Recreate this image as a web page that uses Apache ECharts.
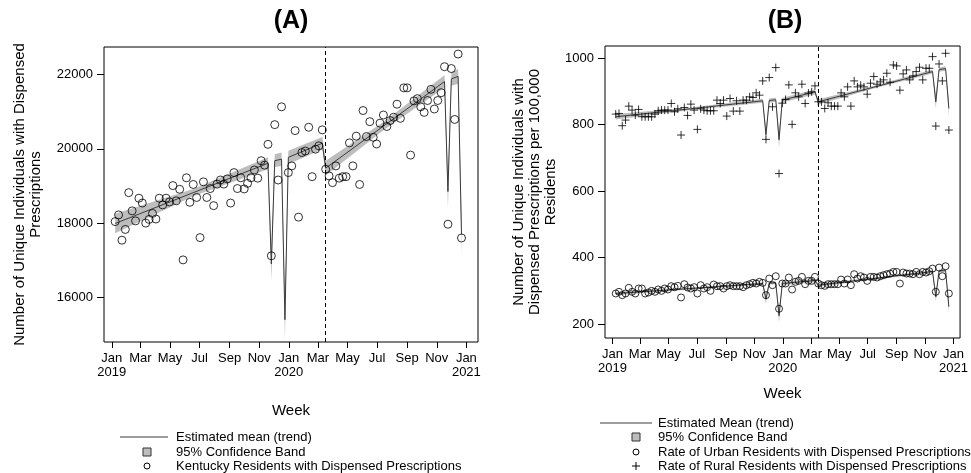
<!DOCTYPE html>
<html>
<head>
<meta charset="utf-8">
<title>Dispensed prescriptions, Kentucky 2019-2020</title>
<script src="https://cdn.jsdelivr.net/npm/echarts@6/dist/echarts.min.js"></script>
<style>
  html, body { margin: 0; padding: 0; background: #fff; }
  #chart { width: 971px; height: 473px; }
</style>
</head>
<body>
<div id="chart"></div>
<script>
// one point per week, Jan 2019 - Dec 2020 (103 weeks)
var DAY = 86400000;
var firstWeek = Date.UTC(2019, 0, 8);
var weeks = [];
for (var i = 0; i < 103; i++) weeks.push(firstWeek + i * 7 * DAY);

// (A) Kentucky residents with dispensed prescriptions
var kentucky = [
  18040, 18220, 17540, 17830, 18820, 18330, 18060, 18670, 18540, 18000,
  18100, 18260, 18110, 18670, 18490, 18670, 18570, 19010, 18600, 18910,
  17010, 19220, 18560, 19040, 18690, 17610, 19110, 18690, 18930, 18470,
  19050, 19160, 19050, 19190, 18540, 19360, 18930, 19220, 18920, 19070,
  19220, 19430, 19210, 19680, 19560, 20120, 17120, 20650, 19160, 21130,
  14780, 19360, 19540, 20490, 18160, 19900, 19940, 20580, 19250, 19990,
  20080, 20510, 19450, 19270, 19090, 19540, 19210, 19250, 19250, 20160,
  19540, 20340, 19040, 21030, 20330, 20730, 20310, 20130, 20690, 20910,
  20600, 20760, 20850, 21200, 20820, 21640, 21640, 19830, 21290, 21350,
  21130, 20980, 21300, 21600, 21070, 21300, 21510, 22210, 17970, 22160,
  20790, 22550, 17600
];

// (B) rates per 100,000 residents
var urban = [
  292, 297, 287, 292, 309, 297, 292, 307, 307, 292,
  295, 300, 297, 304, 300, 307, 304, 314, 311, 315,
  280, 320, 310, 307, 311, 292, 317, 307, 311, 300,
  319, 314, 314, 307, 314, 317, 314, 314, 314, 311,
  317, 320, 324, 322, 327, 324, 287, 337, 317, 344,
  246, 322, 322, 340, 304, 327, 330, 342, 320, 330,
  330, 342, 322, 317, 315, 320, 320, 320, 320, 334,
  322, 334, 317, 350, 337, 344, 340, 330, 342, 342,
  340, 344, 347, 350, 352, 357, 357, 322, 355, 352,
  352, 350, 357, 350, 357, 355, 359, 367, 297, 370,
  344, 374, 292
];
var rural = [
  832, 834, 797, 814, 856, 844, 829, 846, 824, 824,
  824, 824, 832, 842, 844, 844, 844, 864, 839, 848,
  769, 852, 828, 862, 844, 786, 848, 844, 842, 842,
  842, 874, 864, 874, 826, 879, 841, 872, 841, 874,
  874, 884, 882, 896, 889, 932, 756, 942, 854, 972,
  653, 865, 876, 920, 801, 896, 884, 922, 864, 895,
  899, 917, 869, 869, 849, 866, 856, 856, 856, 896,
  884, 914, 856, 932, 914, 919, 914, 892, 925, 945,
  922, 929, 935, 955, 928, 980, 977, 904, 953, 965,
  935, 947, 960, 973, 935, 970, 970, 1005, 796, 983,
  932, 1015, 784
];

// fitted trend: the week numbers where the fitted line bends, its value there
// and the half width of the 95% band
var trendWeeks = [1, 24, 46, 47, 48, 50, 51, 52, 62, 63, 80, 98, 99, 100, 102, 103];
var trendKy    = [17990, 18820, 19610, 16900, 19680, 19720, 15400, 19770, 20150, 19480, 20610, 21810, 18850, 21880, 21950, 17700];
var bandKy     = [260, 100, 160, 450, 170, 180, 550, 180, 170, 200, 110, 170, 450, 180, 200, 600];
var trendRural = [824, 848, 872, 770, 873, 875, 755, 874, 899, 869, 913, 960, 869, 966, 969, 849];
var bandRural  = [8, 4, 6, 20, 6, 6, 25, 7, 7, 8, 4, 6, 20, 6, 7, 25];
var trendUrban = [292, 307, 322, 275, 323, 324, 225, 322, 331, 317, 337, 358, 282, 360, 361, 252];
var bandUrban  = [5, 3, 4, 15, 4, 4, 20, 5, 5, 5, 3, 4, 15, 4, 5, 20];

var interruption = Date.UTC(2020, 2, 16);

var tickDates = [
  Date.UTC(2019, 0, 1), Date.UTC(2019, 2, 1), Date.UTC(2019, 4, 1), Date.UTC(2019, 6, 1),
  Date.UTC(2019, 8, 1), Date.UTC(2019, 10, 1), Date.UTC(2020, 0, 1), Date.UTC(2020, 2, 1),
  Date.UTC(2020, 4, 1), Date.UTC(2020, 6, 1), Date.UTC(2020, 8, 1), Date.UTC(2020, 10, 1),
  Date.UTC(2021, 0, 1)
];
var tickLabels = ['Jan\n2019', 'Mar', 'May', 'Jul', 'Sep', 'Nov', 'Jan\n2020',
                  'Mar', 'May', 'Jul', 'Sep', 'Nov', 'Jan\n2021'];

var FONT = 'Liberation Sans, Arial, sans-serif';

function pairs(list) {
  return list.map(function (v, i) { return [weeks[i], v]; });
}
function trendLine(idx, vals) {
  return {
    type: 'line', xAxisIndex: idx, yAxisIndex: idx, z: 3, silent: true,
    symbol: 'none', lineStyle: { color: '#3c3c3c', width: 1 },
    data: trendWeeks.map(function (w, i) { return [weeks[w - 1], vals[i]]; })
  };
}
function band(idx, vals, half) {
  var pts = trendWeeks.map(function (w, i) {
    return [weeks[w - 1], vals[i] - half[i], vals[i] + half[i]];
  });
  return {
    type: 'custom', xAxisIndex: idx, yAxisIndex: idx, z: 2, silent: true,
    data: pts, encode: { x: 0, y: [1, 2] },
    renderItem: function (params, api) {
      if (params.dataIndex !== 0) return null;
      var upper = [], lower = [];
      for (var k = 0; k < pts.length; k++) {
        upper.push(api.coord([pts[k][0], pts[k][2]]));
        lower.unshift(api.coord([pts[k][0], pts[k][1]]));
      }
      return { type: 'polygon', shape: { points: upper.concat(lower) },
               style: { fill: '#bdbdbd' } };
    }
  };
}
var dashed = {
  symbol: 'none', silent: true, label: { show: false },
  lineStyle: { color: '#000', width: 1, type: [4, 3] },
  data: [{ xAxis: interruption }]
};
var plus = 'path://M5,0L5,10M0,5L10,5';

function xAxisFor(idx, min, max, gap) {
  return {
    type: 'value', gridIndex: idx, min: min, max: max,
    name: 'Week', nameLocation: 'middle', nameGap: gap,
    nameTextStyle: { fontFamily: FONT, fontSize: 15, color: '#000' },
    axisLine: { show: false }, splitLine: { show: false },
    axisTick: { show: true, length: 6, customValues: tickDates, lineStyle: { color: '#000' } },
    axisLabel: {
      customValues: tickDates, margin: 9, fontFamily: FONT, fontSize: 13,
      color: '#000', lineHeight: 14, hideOverlap: false,
      formatter: function (v) { return tickLabels[tickDates.indexOf(v)]; }
    }
  };
}
function yAxisFor(idx, min, max, ticks, name, gap) {
  return {
    type: 'value', gridIndex: idx, min: min, max: max,
    name: name, nameLocation: 'middle', nameRotate: 90, nameGap: gap,
    nameTextStyle: { fontFamily: FONT, fontSize: 15, color: '#000', lineHeight: 16 },
    axisLine: { show: false }, splitLine: { show: false },
    axisTick: { show: true, length: 7, customValues: ticks, lineStyle: { color: '#000' } },
    axisLabel: {
      customValues: ticks, margin: 11, fontFamily: FONT, fontSize: 13, color: '#000',
      formatter: function (v) { return String(v); }
    }
  };
}

function txt(x, y, s, extra) {
  var st = { text: s, x: x, y: y, fill: '#000', font: '13px ' + FONT,
             align: 'left', verticalAlign: 'middle',
             textAlign: 'left', textVerticalAlign: 'middle' };
  for (var key in extra) st[key] = extra[key];
  return { type: 'text', style: st, silent: true };
}
var legendA = [
  { type: 'line', shape: { x1: 120, y1: 437, x2: 168, y2: 437 }, style: { stroke: '#3c3c3c', lineWidth: 1 } },
  txt(176, 437, 'Estimated mean (trend)'),
  { type: 'rect', shape: { x: 143, y: 448, width: 8, height: 8 }, style: { fill: '#bdbdbd', stroke: '#333', lineWidth: 1 } },
  txt(176, 452, '95% Confidence Band'),
  { type: 'circle', shape: { cx: 147, cy: 466, r: 3 }, style: { fill: 'none', stroke: '#000', lineWidth: 1 } },
  txt(176, 466, 'Kentucky Residents with Dispensed Prescriptions')
];
var legendB = [
  { type: 'line', shape: { x1: 600, y1: 423, x2: 652, y2: 423 }, style: { stroke: '#3c3c3c', lineWidth: 1 } },
  txt(658, 423, 'Estimated Mean (trend)'),
  { type: 'rect', shape: { x: 632, y: 433, width: 8, height: 8 }, style: { fill: '#bdbdbd', stroke: '#333', lineWidth: 1 } },
  txt(658, 437, '95% Confidence Band'),
  { type: 'circle', shape: { cx: 636, cy: 452, r: 3 }, style: { fill: 'none', stroke: '#000', lineWidth: 1 } },
  txt(658, 452, 'Rate of Urban Residents with Dispensed Prescriptions'),
  { type: 'line', shape: { x1: 632, y1: 466, x2: 640, y2: 466 }, style: { stroke: '#000', lineWidth: 1 } },
  { type: 'line', shape: { x1: 636, y1: 462, x2: 636, y2: 470 }, style: { stroke: '#000', lineWidth: 1 } },
  txt(658, 466, 'Rate of Rural Residents with Dispensed Prescriptions')
];
var titles = [
  txt(291, 21, '(A)', { font: 'bold 25px ' + FONT, align: 'center', textAlign: 'center' }),
  txt(785, 21, '(B)', { font: 'bold 25px ' + FONT, align: 'center', textAlign: 'center' })
];

var option = {
  animation: false,
  backgroundColor: '#fff',
  grid: [
    { left: 104, right: 493, top: 47, bottom: 131, show: true, borderColor: '#000', borderWidth: 1 },
    { left: 605, right: 6, top: 46, bottom: 135, show: true, borderColor: '#000', borderWidth: 1 }
  ],
  xAxis: [
    xAxisFor(0, Date.UTC(2018, 11, 16), Date.UTC(2021, 0, 25), 61),
    xAxisFor(1, Date.UTC(2018, 11, 16), Date.UTC(2021, 0, 15), 48)
  ],
  yAxis: [
    yAxisFor(0, 14800, 22740, [16000, 18000, 20000, 22000],
             'Number of Unique Individuals with Dispensed\nPrescriptions', 60),
    yAxisFor(1, 158, 1037, [200, 400, 600, 800, 1000],
             'Number of Unique Individuals with\nDispensed Prescriptions per 100,000\nResidents', 46)
  ],
  graphic: titles.concat(legendA, legendB),
  series: [
    band(0, trendKy, bandKy),
    trendLine(0, trendKy),
    {
      type: 'scatter', xAxisIndex: 0, yAxisIndex: 0, z: 4, silent: true,
      symbol: 'circle', symbolSize: 8,
      itemStyle: { color: 'rgba(0,0,0,0)', borderColor: '#000', borderWidth: 1 },
      data: pairs(kentucky), markLine: dashed
    },
    band(1, trendRural, bandRural),
    band(1, trendUrban, bandUrban),
    trendLine(1, trendRural),
    trendLine(1, trendUrban),
    {
      type: 'scatter', xAxisIndex: 1, yAxisIndex: 1, z: 4, silent: true,
      symbol: 'circle', symbolSize: 7,
      itemStyle: { color: 'rgba(0,0,0,0)', borderColor: '#000', borderWidth: 1 },
      data: pairs(urban), markLine: dashed
    },
    {
      type: 'scatter', xAxisIndex: 1, yAxisIndex: 1, z: 4, silent: true,
      symbol: plus, symbolSize: 8,
      itemStyle: { color: 'rgba(0,0,0,0)', borderColor: '#000', borderWidth: 1 },
      data: pairs(rural)
    }
  ]
};

var chart = echarts.init(document.getElementById('chart'));
chart.setOption(option);
</script>
</body>
</html>
